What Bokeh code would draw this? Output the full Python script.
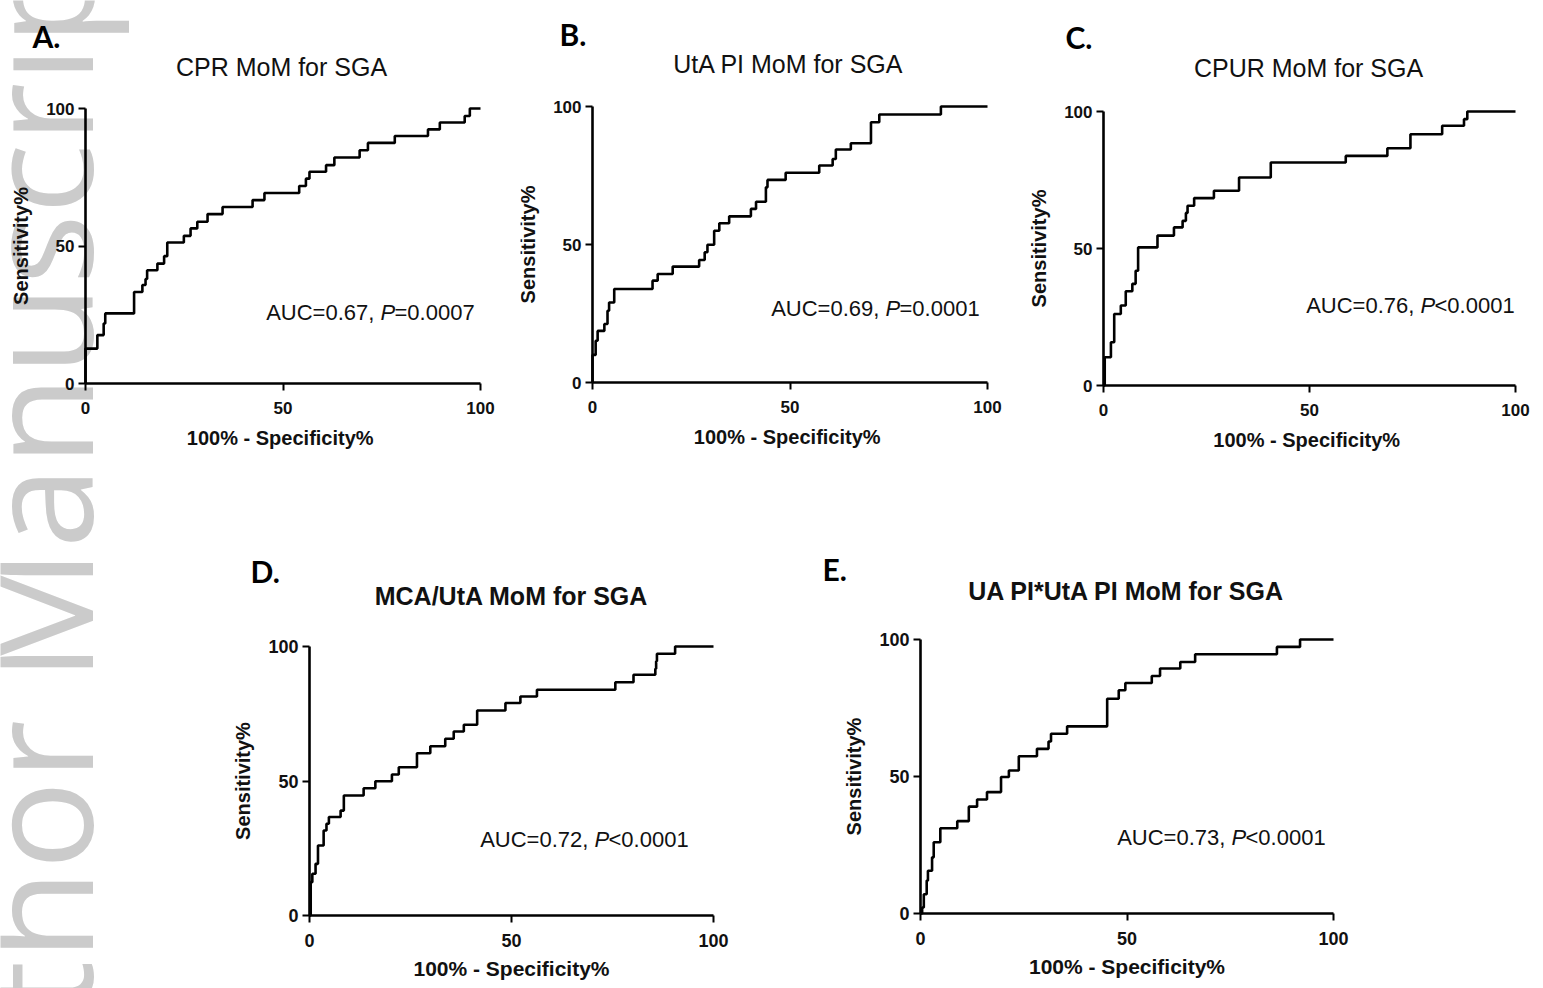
import numpy as np
from bokeh.plotting import figure
from bokeh.models import Range1d, FixedTicker, Label
from bokeh.layouts import row, column
from bokeh.embed import file_html
from bokeh.resources import INLINE

# ---------------- data (1 - specificity %, sensitivity %) : step levels ----------------
A_fpr = [0, 0, 3.0, 4.6, 5.0, 12.3, 14.4, 15.2, 15.6, 18.2, 19.9, 20.7, 24.9, 26.6, 28.3, 30.9,
         34.7, 42.3, 45.3, 54.1, 55.8, 56.7, 60.9, 63.0, 69.4, 71.5, 78.3, 86.7, 89.7, 96.0, 97.3, 100]
A_sens = [0, 12.7, 17.6, 21.8, 25.5, 33.3, 35.8, 38.0, 41.2, 43.6, 46.3, 51.3, 53.7, 56.4, 58.8, 61.6,
          64.2, 66.7, 69.3, 71.8, 74.5, 77.0, 79.4, 82.2, 84.8, 87.5, 90.0, 92.4, 94.9, 97.3, 100, 100]

B_fpr = [0, 0, 0.8, 1.3, 3.0, 3.8, 4.2, 5.5, 15.2, 16.5, 20.3, 27.0, 28.4, 29.1, 30.8, 32.1, 34.6,
         40.1, 41.4, 43.9, 44.3, 48.9, 57.4, 60.8, 61.6, 65.4, 70.5, 72.6, 88.2, 100]
B_sens = [0, 10.0, 15.1, 18.7, 21.2, 26.0, 29.0, 33.9, 36.9, 39.3, 42.0, 44.4, 47.2, 49.9, 55.0, 57.7,
          60.2, 62.9, 65.5, 70.7, 73.4, 76.0, 78.6, 81.0, 84.4, 86.7, 94.3, 97.1, 100, 100]

C_fpr = [0, 0.3, 1.8, 2.6, 2.6, 4.2, 5.4, 7.0, 7.8, 8.4, 13.1, 17.1, 19.2, 20.0, 20.4, 22.0, 26.8,
         32.9, 40.6, 58.8, 68.9, 74.5, 82.2, 87.5, 88.3, 100]
C_sens = [0, 10.3, 15.8, 21.3, 26.1, 29.2, 34.4, 37.1, 41.9, 50.4, 54.7, 57.7, 60.1, 63.0, 65.6, 68.4,
          71.1, 75.9, 81.4, 83.8, 86.6, 91.7, 94.8, 97.2, 100, 100]

D_fpr = [0, 0.3, 0.7, 1.5, 2.1, 3.5, 3.5, 4.2, 4.8, 7.7, 8.5, 13.4, 16.3, 20.4, 22.1, 26.6, 29.9,
         33.6, 35.7, 38.2, 41.5, 48.5, 52.2, 56.3, 75.7, 80.2, 85.6, 85.8, 86.0, 90.5, 100]
D_sens = [0, 12.4, 15.5, 19.2, 26.0, 29.1, 31.6, 34.1, 36.6, 39.0, 44.6, 47.3, 49.9, 52.4, 55.1, 60.3,
          62.9, 65.7, 68.4, 70.9, 76.2, 79.0, 81.4, 83.9, 86.7, 89.5, 91.7, 94.5, 97.3, 100, 100]

E_fpr = [0, 0.4, 0.8, 1.5, 1.8, 2.8, 3.2, 4.8, 8.9, 11.7, 13.7, 16.1, 19.5, 21.4, 23.8, 28.2, 31.0,
         31.6, 35.5, 45.2, 45.2, 48.0, 49.6, 56.0, 58.0, 62.9, 66.5, 86.3, 91.9, 100]
E_sens = [0, 2.2, 7.0, 12.0, 15.6, 20.5, 26.0, 31.1, 33.7, 39.0, 41.6, 44.3, 49.8, 52.2, 57.4, 60.1,
          62.8, 65.6, 68.3, 76.0, 78.4, 81.5, 84.1, 86.7, 89.4, 91.8, 94.6, 97.3, 100, 100]

letters = ["A.", "B.", "C.", "D.", "E."]
titles = ["CPR MoM for SGA", "UtA PI MoM for SGA", "CPUR MoM for SGA",
          "MCA/UtA MoM for SGA", "UA PI*UtA PI MoM for SGA"]
auc_texts = ["AUC=0.67, ", "AUC=0.69, ", "AUC=0.76, ", "AUC=0.72, ", "AUC=0.73, "]
p_texts = ["=0.0007", "=0.0001", "<0.0001", "<0.0001", "<0.0001"]
x_labels = ["100%  - Specificity%", "100%  - Specificity%", "100%  - Specificity%",
            "100% - Specificity%", "100% - Specificity%"]
y_label = "Sensitivity%"
ticks = [0, 50, 100]
axis_span = (0, 100)
watermark = "Author Manuscript"

series = [(A_fpr, A_sens), (B_fpr, B_sens), (C_fpr, C_sens), (D_fpr, D_sens), (E_fpr, E_sens)]

# ---------------- layout (page pixel geometry) ----------------
# canvas (x, y, w, h); axes pixel positions: x of value 0 / 100, y of value 0 / 100
layout_spec = [
    dict(canvas=(0, 0, 520, 470), ax=(85, 480, 383, 108), letter=(32, 35), title=(281, 66),
         auc=(380, 312), bottom=False),
    dict(canvas=(520, 0, 510, 470), ax=(592, 987, 382, 106), letter=(559, 33), title=(788, 63),
         auc=(885, 308), bottom=False),
    dict(canvas=(1030, 0, 513, 470), ax=(1103, 1515, 385, 111), letter=(1065, 36), title=(1308, 67),
         auc=(1420, 305), bottom=False),
    dict(canvas=(0, 470, 790, 518), ax=(309, 713, 915, 646), letter=(250, 570), title=(511, 595),
         auc=(594, 839), bottom=True),
    dict(canvas=(790, 470, 753, 518), ax=(920, 1333, 913, 639), letter=(822, 568), title=(1126, 590),
         auc=(1231, 837), bottom=True),
]

FONT = "Liberation Sans"


def make_panel(i):
    spec = layout_spec[i]
    cx, cy, cw, ch = spec["canvas"]
    px0, px100, py0, py100 = spec["ax"]
    sx = (px100 - px0) / 100.0
    sy = (py0 - py100) / 100.0
    xr = Range1d((cx - px0) / sx, (cx + cw - px0) / sx)
    yr = Range1d((py0 - (cy + ch)) / sy, (py0 - cy) / sy)
    p = figure(width=cw, height=ch, x_range=xr, y_range=yr,
               min_border_left=0, min_border_right=0, min_border_top=0, min_border_bottom=0,
               output_backend="svg", toolbar_location=None, outline_line_color=None,
               background_fill_color="white", border_fill_color="white")
    p.grid.visible = False

    def to_data(px, py):
        return (px - px0) / sx, (py0 - py) / sy

    def lab(px, py, text, **kw):
        x, y = to_data(px, py)
        return Label(x=x, y=y, text=text, **kw)

    big = spec["bottom"]
    for ax in (p.xaxis[0], p.yaxis[0]):
        ax.fixed_location = 0
        ax.bounds = axis_span
        ax.ticker = FixedTicker(ticks=ticks)
        ax.axis_line_width = 2.6
        ax.axis_line_color = "black"
        ax.major_tick_line_width = 2
        ax.major_tick_line_color = "black"
        ax.major_tick_out = 7
        ax.major_tick_in = 0
        ax.minor_tick_out = 0
        ax.minor_tick_in = 0
        ax.major_label_text_font = FONT
        ax.major_label_text_font_style = "bold"
        ax.major_label_text_font_size = "18px" if big else "17px"
        ax.major_label_text_color = "#111111"
        ax.axis_label_text_font = FONT
        ax.axis_label_text_font_style = "bold"
        ax.axis_label_text_color = "#111111"
    p.xaxis.axis_label_text_font_size = "21px" if big else "20px"
    p.yaxis.axis_label_text_font_size = "20px"
    p.xaxis.axis_label = x_labels[i]
    p.yaxis.axis_label = y_label
    p.xaxis.major_label_standoff = 11
    p.xaxis.axis_label_standoff = 7 if big else 10
    p.yaxis.major_label_standoff = 4
    p.yaxis.axis_label_standoff = 11

    # watermark (panels A and D cover the left strip), drawn under everything
    if i in (0, 3):
        p.add_layout(lab(35, 1197, watermark, angle=np.pi / 2, text_align="left",
                         text_baseline="alphabetic", text_font="Open Sans", text_font_size="148px",
                         text_color="#cbcbcb", level="underlay"))

    fpr, sens = series[i]
    p.step(fpr, sens, mode="after", line_width=2.6, line_color="black")

    p.add_layout(lab(*spec["letter"], letters[i], text_align="left", text_baseline="middle",
                     text_font="Lato", text_font_style="bold", text_font_size="30px",
                     text_color="black"))
    p.add_layout(lab(*spec["title"], titles[i], text_align="center", text_baseline="middle",
                     text_font=FONT, text_font_style="bold" if big else "normal",
                     text_font_size="25px", text_color="#111111"))
    pl, py_ = spec["auc"]
    common = dict(text_baseline="middle", text_font=FONT, text_font_size="22px", text_color="#111111")
    p.add_layout(lab(pl, py_, auc_texts[i], text_align="right", **common))
    p.add_layout(lab(pl, py_, "P", text_align="left", text_font_style="italic", **common))
    p.add_layout(lab(pl + 14, py_, p_texts[i], text_align="left", **common))
    return p


panels = [make_panel(i) for i in range(5)]
layout = column(row(panels[0], panels[1], panels[2]), row(panels[3], panels[4]))

open("out.html", "w").write(file_html(layout, INLINE))
